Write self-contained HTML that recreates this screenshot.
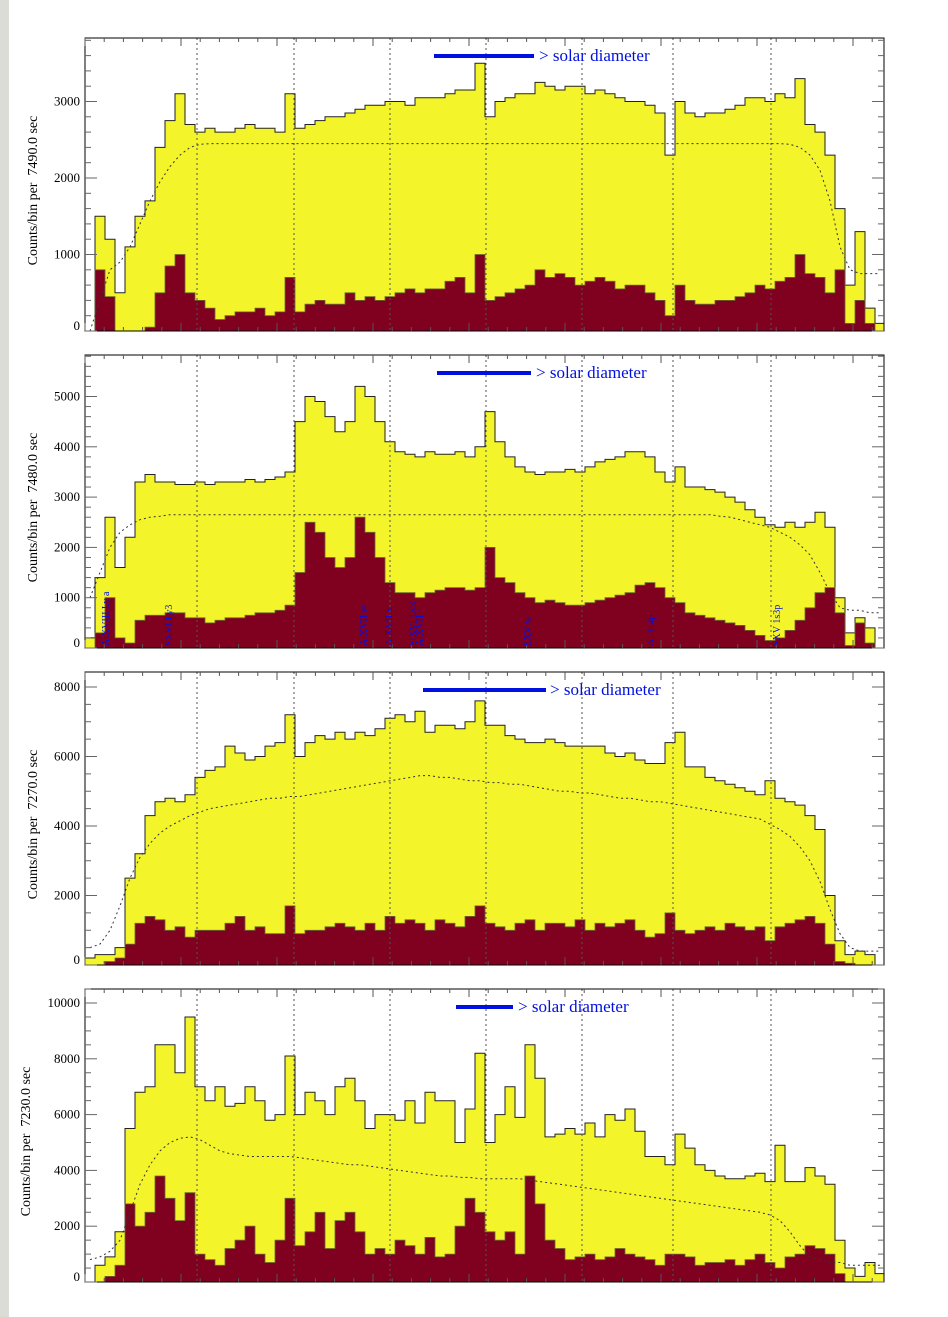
<!DOCTYPE html>
<html><head><meta charset="utf-8"><style>
body{margin:0;background:#fff;}
#wrap{position:relative;width:948px;height:1317px;overflow:hidden;background:#fff;}
#strip{position:absolute;left:0;top:0;width:9px;height:1317px;background:#dcdcd6;}
svg{position:absolute;left:0;top:0;}
</style></head><body>
<div id="wrap">
<div id="strip"></div>
<svg id="svg" width="948" height="1317"></svg>
</div>
<script>
// bins: centers at x-offset 5,15,...,795 (80 bins across the 800px axis)
const p1Total=[0,1500,1200,500,1100,1500,1700,2400,2750,3100,2700,2600,2650,2600,2600,2650,2700,2650,2650,2600,3100,2650,2700,2750,2800,2800,2850,2900,2950,2950,3000,3000,2950,3050,3050,3050,3100,3150,3150,3500,2800,3000,3050,3100,3100,3250,3200,3150,3200,3200,3100,3150,3100,3050,3000,3000,2950,2850,2300,3000,2850,2800,2850,2850,2900,2950,3050,3050,3000,3100,3050,3300,2700,2600,2300,1600,600,1300,300,100];
const p1Hard=[0,800,450,0,0,0,50,500,850,1000,500,400,300,150,200,250,250,300,200,250,700,250,350,400,350,350,500,400,450,400,450,500,550,500,550,550,650,700,500,1000,400,450,500,550,600,800,700,750,700,600,650,700,650,550,600,600,500,400,200,600,400,350,350,400,400,450,500,600,550,650,700,1000,750,700,500,800,100,400,100,0];
const p1Model=[0,400,800,900,1100,1400,1700,1950,2150,2300,2400,2440,2450,2450,2450,2450,2450,2450,2450,2450,2450,2450,2450,2450,2450,2450,2450,2450,2450,2450,2450,2450,2450,2450,2450,2450,2450,2450,2450,2450,2450,2450,2450,2450,2450,2450,2450,2450,2450,2450,2450,2450,2450,2450,2450,2450,2450,2450,2450,2450,2450,2450,2450,2450,2450,2450,2450,2450,2450,2450,2440,2400,2300,2100,1700,1100,800,750,750,750];
const p2Total=[200,1400,2600,1600,2200,3300,3450,3300,3300,3250,3250,3300,3250,3300,3300,3300,3350,3300,3350,3400,3500,4500,5000,4900,4600,4300,4500,5200,5000,4500,4100,3900,3850,3800,3900,3850,3850,3900,3800,4000,4700,4100,3800,3600,3500,3450,3500,3500,3550,3500,3600,3700,3750,3800,3900,3900,3800,3500,3300,3600,3200,3200,3150,3100,3000,2900,2750,2600,2450,2400,2500,2400,2500,2700,2400,1000,300,600,400,0];
const p2Hard=[0,300,1000,200,100,550,650,650,700,700,600,600,500,550,600,600,650,700,700,750,850,1500,2500,2300,1800,1600,1800,2600,2300,1800,1300,1100,1100,1000,1100,1150,1200,1200,1150,1200,2000,1400,1300,1100,1000,900,950,900,850,850,900,950,1000,1050,1100,1250,1300,1200,1000,900,700,650,600,550,500,450,350,250,150,200,350,550,800,1100,1200,700,50,500,100,0];
const p2Model=[1000,1500,2000,2300,2450,2550,2600,2620,2650,2650,2650,2650,2650,2650,2650,2650,2650,2650,2650,2650,2650,2650,2650,2650,2650,2650,2650,2650,2650,2650,2650,2650,2650,2650,2650,2650,2650,2650,2650,2650,2650,2650,2650,2650,2650,2650,2650,2650,2650,2650,2650,2650,2650,2650,2650,2650,2650,2650,2650,2650,2650,2650,2650,2620,2600,2550,2500,2450,2400,2300,2200,2050,1850,1500,1100,800,750,750,700,700];
const p3Total=[200,300,300,500,2500,3200,4300,4700,4800,4700,4900,5400,5600,5700,6300,6100,5900,6000,6300,6400,7200,6000,6400,6600,6500,6700,6500,6700,6600,6800,7100,7200,7000,7300,6700,6900,6900,6800,7000,7600,6900,6900,6600,6500,6400,6400,6500,6400,6300,6300,6300,6300,6100,6000,6100,5900,5800,5800,6400,6700,5700,5700,5400,5300,5200,5100,5000,4900,5300,4800,4700,4600,4300,3900,2000,700,300,400,300,0];
const p3Hard=[0,0,100,200,600,1200,1400,1300,1000,1100,800,1000,1000,1000,1200,1400,1000,1100,900,900,1700,900,1000,1000,1100,1200,1100,1000,1200,1000,1400,1200,1300,1200,1000,1300,1200,1100,1400,1700,1200,1100,1000,1200,1300,1000,1200,1200,1100,1300,1000,1200,1100,1200,1300,1000,800,900,1500,1000,900,1000,1100,1000,1200,1100,1000,1100,700,1100,1200,1300,1400,1200,600,100,50,0,0,0];
const p3Model=[500,600,1000,1700,2500,3100,3500,3800,4000,4150,4300,4400,4500,4550,4600,4650,4700,4750,4800,4800,4850,4850,4900,4950,5000,5050,5100,5150,5200,5250,5300,5350,5400,5450,5450,5400,5400,5350,5300,5300,5250,5250,5200,5200,5150,5100,5050,5000,5000,4950,4950,4900,4850,4800,4800,4750,4700,4700,4650,4600,4550,4500,4450,4400,4350,4300,4250,4200,4050,3900,3700,3400,3000,2400,1600,900,500,400,400,400];
const p4Total=[0,600,900,1800,5500,6800,7000,8500,8500,7500,9500,7000,6500,7000,6300,6400,7000,6500,5800,6000,8100,6000,6800,6500,6000,7000,7300,6500,5500,6000,6000,5800,6500,5700,6800,6500,6500,5000,6200,8200,5000,6000,7000,5900,8500,7300,5200,5300,5500,5300,5700,5200,6000,5800,6200,5400,4500,4500,4200,5300,4800,4200,4000,3800,3700,3700,3800,3900,3600,4900,3600,3600,4100,3800,3500,1500,500,200,700,300];
const p4Hard=[0,0,200,600,2800,2000,2500,3800,3000,2200,3200,1000,800,600,1200,1500,2000,1000,700,1500,3000,1300,1800,2500,1200,2200,2500,1800,1000,1200,1000,1500,1300,1000,1600,900,1000,2000,3000,2500,1800,1500,1800,1000,3800,2800,1500,1200,800,900,1000,800,900,1200,1000,900,800,600,1000,1000,900,600,700,700,800,600,800,1000,700,500,900,1000,1300,1200,1000,300,0,0,0,0];
const p4Model=[800,900,1100,1500,2500,3500,4200,4700,5000,5150,5200,5100,4900,4700,4600,4550,4500,4500,4500,4500,4500,4450,4400,4350,4300,4250,4200,4200,4150,4100,4050,4000,3950,3900,3850,3800,3800,3750,3750,3700,3700,3700,3700,3700,3650,3600,3550,3500,3450,3400,3350,3300,3250,3200,3150,3100,3050,3000,2950,2900,2850,2800,2750,2700,2650,2600,2550,2500,2400,2200,1800,1300,900,800,700,700,600,600,600,600];

const p1Ticks=[0,1000,2000,3000];
const p2Ticks=[0,1000,2000,3000,4000,5000];
const p3Ticks=[0,2000,4000,6000,8000];
const p4Ticks=[0,2000,4000,6000,8000,10000];

const panels=[
 {top:38,bot:331,zero:331,pxPer:0.0765,minor:200,total:p1Total,hard:p1Hard,model:p1Model,ticks:p1Ticks,ylab:"Counts/bin per\u00a0\u00a07490.0 sec",labx:37,bar:[434,534],barY:56,textX:539,name:"panel-1"},
 {top:355,bot:648,zero:648,pxPer:0.0503,minor:200,total:p2Total,hard:p2Hard,model:p2Model,ticks:p2Ticks,ylab:"Counts/bin per\u00a0\u00a07480.0 sec",labx:37,bar:[437,531],barY:373,textX:536,name:"panel-2"},
 {top:672,bot:965,zero:965,pxPer:0.03475,minor:500,total:p3Total,hard:p3Hard,model:p3Model,ticks:p3Ticks,ylab:"Counts/bin per\u00a0\u00a07270.0 sec",labx:37,bar:[423,546],barY:690,textX:550,name:"panel-3"},
 {top:989,bot:1282,zero:1282,pxPer:0.0279,minor:500,total:p4Total,hard:p4Hard,model:p4Model,ticks:p4Ticks,ylab:"Counts/bin per\u00a0\u00a07230.0 sec",labx:30,bar:[456,513],barY:1007,textX:518,name:"panel-4"}
];
const X0=85,X1=884,BW=10;
const NS="http://www.w3.org/2000/svg";
const svg=document.getElementById('svg');
function mk(tag,attrs,parent){const e=document.createElementNS(NS,tag);for(const k in attrs)e.setAttribute(k,attrs[k]);(parent||svg).appendChild(e);return e;}
function xScale(i){return X0+i*BW;}
function stepPath(vals,ys,zero){let d="M"+xScale(0)+","+zero;vals.forEach((v,i)=>{const y=Math.max(ys(v),0);d+=" L"+xScale(i)+","+y.toFixed(1)+" L"+xScale(i+1)+","+y.toFixed(1);});d+=" L"+xScale(vals.length)+","+zero+" Z";return d;}
function linePath(vals,ys){let d="";vals.forEach((v,i)=>{d+=(i?" L":"M")+(xScale(i)+BW/2)+","+ys(v).toFixed(1);});return d;}
const labelSets=[null,[[105,"AlXVIII Ly a"],[168,"SXVI Ly3"],[363,"AlXVII w"],[388,"AlXVII x"],[412,"SiXVI Ly3"],[419,"AlXVII"],[527,"SXV w"],[650,"Al 1s4p"],[776,"SXV 1s3p"]],null,null];
panels.forEach((p,pi)=>{
 const g=mk('g',{});
 
 
 const ys=v=>p.zero-v*p.pxPer;
 const clipId='c'+pi;
 const cp=mk('clipPath',{id:clipId},g);mk('rect',{x:X0,y:p.top,width:X1-X0,height:p.bot-p.top},cp);
 const plot=mk('g',{'clip-path':'url(#'+clipId+')'},g);
 const tot=mk('path',{d:stepPath(p.total,ys,p.zero),fill:'#f4f42a',stroke:'#222','stroke-width':1},plot);
 
 
 const hd=mk('path',{d:stepPath(p.hard,ys,p.zero),fill:'#800020',stroke:'#6a6a30','stroke-width':0.8},plot);
 
 
 const md=mk('path',{d:linePath(p.model,ys),fill:'none',stroke:'#333','stroke-width':1,'stroke-dasharray':'2,3'},plot);
 
 
 [197,294,390,486,582,673,771].forEach(x=>{const l=mk('line',{x1:x,x2:x,y1:p.top,y2:p.bot,stroke:'#555','stroke-dasharray':'2,3','stroke-width':1},g);
  
  });
 const fr=mk('rect',{x:X0,y:p.top,width:X1-X0,height:p.bot-p.top,fill:'none',stroke:'#000','stroke-width':1},g);
 
 
 for(let x=X0;x<=X1;x+=19.2){const big=Math.round((x-X0)/19.2)%5==0;const len=big?8:4;
  mk('line',{x1:x,x2:x,y1:p.top,y2:p.top+len,stroke:'#555'},g);mk('line',{x1:x,x2:x,y1:p.bot,y2:p.bot-len,stroke:'#555'},g);}
 const maxV=(p.zero-p.top)/p.pxPer;
 for(let v=0;v<=maxV;v+=p.minor){const y=ys(v);const big=Math.abs(v/ (p.ticks[1]) - Math.round(v/p.ticks[1]))<1e-6;const len=big?12:6;
  mk('line',{x1:X0,x2:X0+len,y1:y,y2:y,stroke:'#666'},g);mk('line',{x1:X1,x2:X1-len,y1:y,y2:y,stroke:'#666'},g);}
 p.ticks.forEach(v=>{const t=mk('text',{x:80,y:ys(v)+(v==0?-1:4),'text-anchor':'end','font-family':'Liberation Serif, serif','font-size':13,fill:'#000'},g);t.textContent=v;
  
  });
 const cy=(p.top+p.bot)/2+6;
 const yl=mk('text',{x:p.labx,y:cy,transform:'rotate(-90 '+p.labx+' '+cy+')','text-anchor':'middle','font-family':'Liberation Serif, serif','font-size':14,fill:'#000'},g);yl.textContent=p.ylab;
 
 
 const bar=mk('line',{x1:p.bar[0],x2:p.bar[1],y1:p.barY,y2:p.barY,stroke:'#0010e0','stroke-width':4},g);
 
 
 const st=mk('text',{x:p.textX,y:p.barY+5,'font-family':'Liberation Serif, serif','font-size':17,fill:'#0010e0'},g);st.textContent='> solar diameter';
 
 
 if(labelSets[pi]){labelSets[pi].forEach(([x,s])=>{const y=p.bot-2;const t=mk('text',{x:x+4,y:y,transform:'rotate(-90 '+(x+4)+' '+y+')','font-family':'Liberation Serif, serif','font-size':10,fill:'#0010e0'},g);t.textContent=s;
  
  });}
});
</script>
</body></html>
